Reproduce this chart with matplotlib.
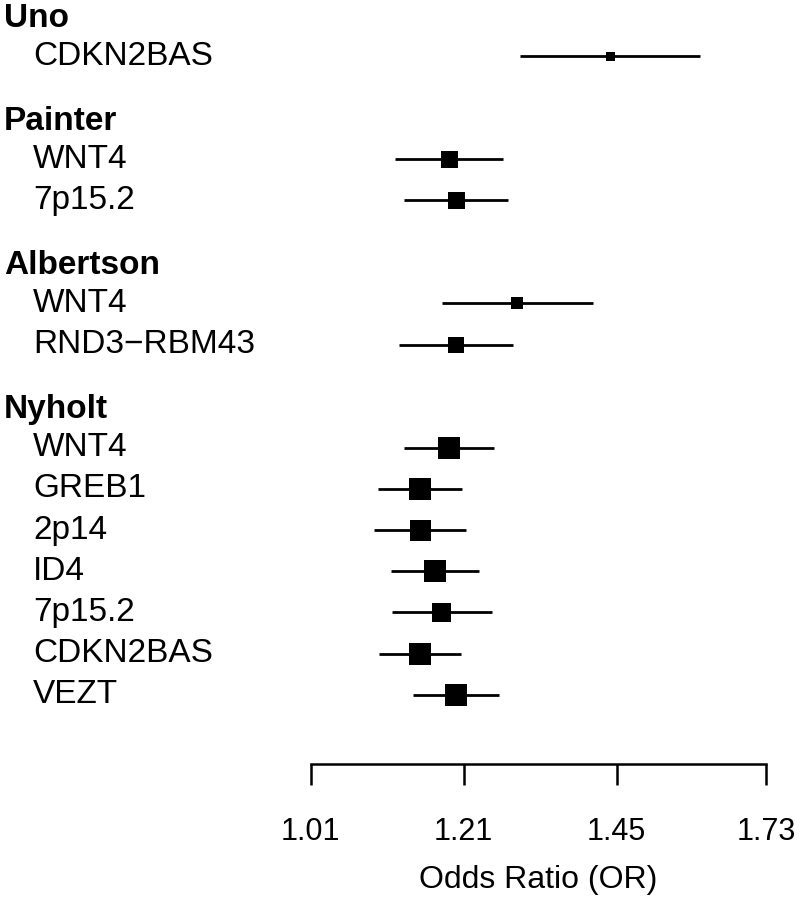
import numpy as np
import matplotlib
matplotlib.use("Agg")
import matplotlib.pyplot as plt

plt.rcParams['font.family'] = ['Liberation Sans', 'DejaVu Sans']

# ---- data ----
groups = ["Uno", "Painter", "Albertson", "Nyholt"]
group_items = [
    ["CDKN2BAS"],
    ["WNT4", "7p15.2"],
    ["WNT4", "RND3\u2212RBM43"],
    ["WNT4", "GREB1", "2p14", "ID4", "7p15.2", "CDKN2BAS", "VEZT"],
]
odds_ratio = [
    [1.439],
    [1.189, 1.199],
    [1.289, 1.199],
    [1.189, 1.149, 1.149, 1.170, 1.178, 1.149, 1.199],
]
ci_low = [
    [1.294],
    [1.116, 1.128],
    [1.180, 1.121],
    [1.128, 1.094, 1.089, 1.111, 1.112, 1.095, 1.140],
]
ci_high = [
    [1.600],
    [1.268, 1.275],
    [1.410, 1.283],
    [1.254, 1.208, 1.214, 1.232, 1.251, 1.206, 1.262],
]
# relative study weight (box size)
weights = [
    [9],
    [17, 17],
    [12, 16],
    [22, 23, 21, 22, 19, 23, 22],
]
tick_values = [1.01, 1.21, 1.45, 1.73]
tick_labels = ["1.01", "1.21", "1.45", "1.73"]
x_label = "Odds Ratio (OR)"

# ---- layout ----
W, H = 800, 907
fig = plt.figure(figsize=(W / 100, H / 100), dpi=100)
ax = fig.add_axes([0, 0, 1, 1])
ax.set_xscale('log')

# pixel mapping: x=310.7px -> 1.01, 846 px per log unit
px0, ppl = 310.7, 846.0
lo = np.exp(np.log(1.01) - px0 / ppl)
hi = np.exp(np.log(1.01) + (W - px0) / ppl)
ax.set_xlim(lo, hi)
row_px, top_px = 41.2, 15.0
ax.set_ylim((H - top_px) / row_px, -top_px / row_px)

fs_lab = 24
fs_tick = 22
fs_xl = 23
hdr_x = 4 / W
item_x = 33 / W
hdr_dy = 3.5 / row_px
trans = ax.get_yaxis_transform()  # x in axes fraction, y in data

y = 0.0
for gi, g in enumerate(groups):
    if gi > 0:
        y += 1.5
    ax.text(hdr_x, y + hdr_dy, g, transform=trans, fontsize=fs_lab,
            fontweight='bold', ha='left', va='center')
    for j, item in enumerate(group_items[gi]):
        y += 1
        ax.text(item_x, y, item, transform=trans, fontsize=fs_lab,
                ha='left', va='center')
        ax.plot([ci_low[gi][j], ci_high[gi][j]], [y, y], color='black',
                lw=2.0, solid_capstyle='butt', zorder=2)
        ax.plot([odds_ratio[gi][j]], [y], marker='s', color='black',
                markersize=weights[gi][j] * 0.72, markeredgewidth=0,
                linestyle='none', zorder=3)

# axis
axis_y = (764 - top_px) / row_px
for s in ['top', 'left', 'right']:
    ax.spines[s].set_visible(False)
ax.spines['bottom'].set_position(('data', axis_y))
ax.spines['bottom'].set_bounds(tick_values[0], tick_values[-1])
ax.spines['bottom'].set_linewidth(1.8)
ax.xaxis.set_ticks_position('bottom')
ax.set_xticks(tick_values)
ax.set_xticklabels(tick_labels)
ax.xaxis.set_minor_locator(matplotlib.ticker.NullLocator())
ax.tick_params(axis='x', direction='out', length=15, width=1.8,
               labelsize=fs_tick, pad=23)
ax.set_yticks([])
ax.patch.set_visible(False)

xl_y = (880 - top_px) / row_px
ax.text(np.sqrt(tick_values[0] * tick_values[-1]), xl_y, x_label,
        fontsize=fs_xl, ha='center', va='center')

fig.savefig("out.png", dpi=100, facecolor='white')
